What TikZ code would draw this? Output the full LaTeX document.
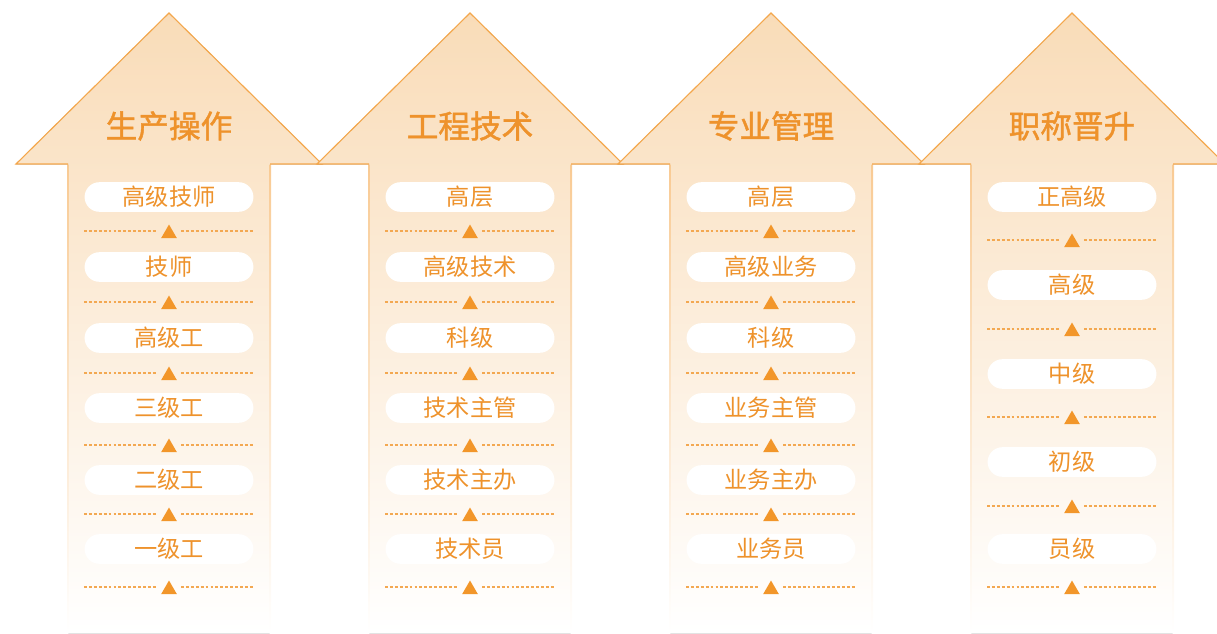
\documentclass[tikz,border=0pt]{standalone}
\usepackage{fontspec}
\newfontfamily\cjk{Noto Sans CJK SC}
\newfontfamily\cjktitle[FakeBold=1.4]{Noto Sans CJK SC}
\usetikzlibrary{shapes.geometric}
\definecolor{arrowfill}{HTML}{F9DCB8}
\definecolor{arrowline}{HTML}{F4A74C}
\definecolor{labeltext}{HTML}{EE922B}
\definecolor{sepcolor}{HTML}{F3A851}
\definecolor{tricolor}{HTML}{F2962A}
\begin{document}
\begin{tikzpicture}[x=0.025cm,y=-0.025cm,line join=miter,
  pill/.style={fill=white,rounded corners=0.37cm,minimum width=4.22cm,minimum height=0.74cm,inner sep=0pt,text=labeltext,font=\cjk\fontsize{16.5}{17}\selectfont},
  head/.style={text=labeltext,font=\cjktitle\fontsize{22.5}{23}\selectfont},
  sepline/.style={draw=sepcolor,line width=0.8pt,dash pattern=on 2pt off 1.5pt},
  uptri/.style={regular polygon,regular polygon sides=3,fill=tricolor,minimum size=0.45cm,inner sep=0pt},
]
\useasboundingbox (0,0) rectangle (1217,633);
%% the four arrows
\foreach \c in {169,470,771,1072}{
  \fill[top color=arrowfill,bottom color=white] (\c-101,633) -- (\c-101,164) -- (\c-153,164) -- (\c,13) -- (\c+153,164) -- (\c+101,164) -- (\c+101,633) -- cycle;
  \shade[top color=arrowline!60,bottom color=white] (\c-102,164) rectangle (\c-100.6,633);
  \shade[top color=arrowline!60,bottom color=white] (\c+100.6,164) rectangle (\c+102,633);
  \draw[arrowline,line width=0.8pt] (\c-101,164) -- (\c-153,164) -- (\c,13) -- (\c+153,164) -- (\c+101,164);
}
%% titles
\node (head_a) at (169,126) [head] {生产操作};
\node (head_b) at (470,126) [head] {工程技术};
\node (head_c) at (771,126) [head] {专业管理};
\node (head_d) at (1072,126) [head] {职称晋升};
%% levels
\foreach \y/\txt [count=\i] in {197/高级技师,267/技师,338/高级工,408/三级工,480/二级工,549/一级工}
  \node (a_\i) at (169,\y) [pill] {\txt};
\foreach \y/\txt [count=\i] in {197/高层,267/高级技术,338/科级,408/技术主管,480/技术主办,549/技术员}
  \node (b_\i) at (470,\y) [pill] {\txt};
\foreach \y/\txt [count=\i] in {197/高层,267/高级业务,338/科级,408/业务主管,480/业务主办,549/业务员}
  \node (c_\i) at (771,\y) [pill] {\txt};
\foreach \y/\txt [count=\i] in {197/正高级,285/高级,374/中级,462/初级,549/员级}
  \node (d_\i) at (1072,\y) [pill] {\txt};
%% separators
\foreach \c/\n in {169/a,470/b,771/c}
  \foreach \y [count=\i] in {231,302,373,445,514,587}{
    \node (\n_t\i) at (\c,\y+2.5) [uptri] {};
    \coordinate (\n_l\i) at (\c-85,\y);
    \coordinate (\n_r\i) at (\c+85,\y);
    \draw[sepline] (\n_l\i) -- (\c-12,\y);
    \draw[sepline] (\c+12,\y) -- (\n_r\i);
  }
\foreach \y [count=\i] in {240,329,417,506,587}{
  \node (d_t\i) at (1072,\y+2.5) [uptri] {};
  \coordinate (d_l\i) at (1072-85,\y);
  \coordinate (d_r\i) at (1072+85,\y);
  \draw[sepline] (d_l\i) -- (1072-12,\y);
  \draw[sepline] (1072+12,\y) -- (d_r\i);
}
\end{tikzpicture}
\end{document}
